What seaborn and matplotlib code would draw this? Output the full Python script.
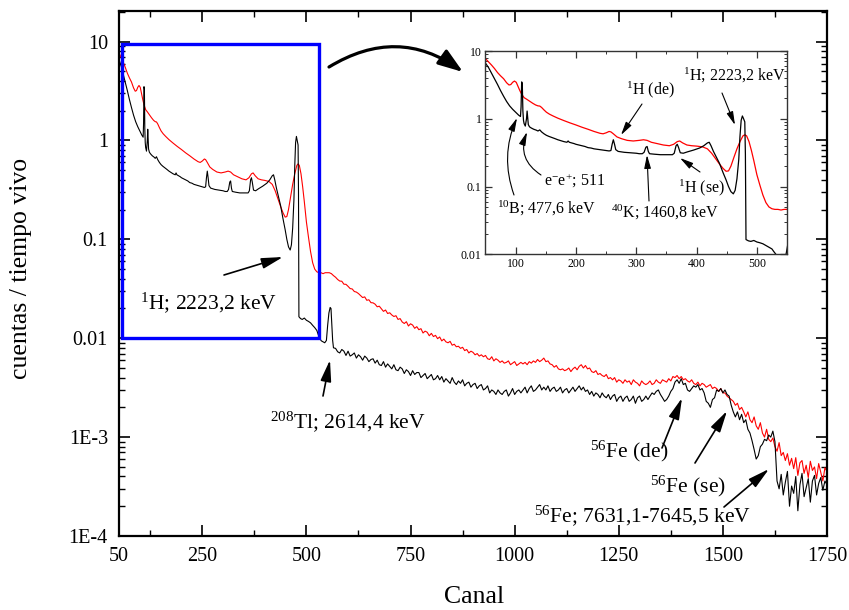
import matplotlib
matplotlib.use("Agg")
import matplotlib.pyplot as plt
import seaborn as sns
import pandas as pd
from matplotlib.patches import Rectangle, FancyArrowPatch
from matplotlib.ticker import FixedLocator, LogLocator, NullFormatter

# ---------------- spectra (counts / live time per channel) ----------------
# low-energy region, sampled around every feature
canal_bajo_negro = [50, 55, 60, 65, 70, 75, 80, 85, 90, 95,
                    100, 105, 108, 109, 110, 111, 112, 113, 114, 116,
                    118, 119, 120, 121, 123, 126, 130, 134, 137, 140,
                    143, 147, 151, 155, 160, 165, 170, 175, 180, 185,
                    187, 189, 193, 197, 200, 205, 210, 215, 220, 225,
                    230, 235, 240, 245, 250, 255, 258, 260, 262, 264,
                    266, 270, 275, 280, 290, 300, 305, 310, 313, 316,
                    318, 320, 322, 330, 340, 350, 360, 363, 366, 368,
                    370, 373, 378, 385, 395, 405, 412, 418, 421, 424,
                    428, 432, 438, 444, 449, 453, 457, 461, 464, 467,
                    470, 472, 474, 476, 478, 480, 481, 482, 486, 490,
                    495, 500, 505, 510, 515, 520, 525, 528, 532, 536,
                    540, 544, 548, 551, 554, 557, 559, 561, 563, 565]
negro_bajo = [6.6, 5.7, 4.7, 3.9, 3.2, 2.6, 2.15, 1.8, 1.55, 1.38,
              1.25, 1.13, 1.08, 1.5, 3.5, 3.3, 1.3, 0.95, 0.85, 0.78,
              1.0, 1.3, 1.05, 0.82, 0.76, 0.73, 0.70, 0.68, 0.66, 0.685,
              0.64, 0.60, 0.57, 0.55, 0.53, 0.51, 0.49, 0.475, 0.46, 0.45,
              0.47, 0.45, 0.44, 0.43, 0.42, 0.41, 0.40, 0.39, 0.375, 0.37,
              0.36, 0.355, 0.35, 0.345, 0.34, 0.335, 0.34, 0.42, 0.49, 0.42,
              0.35, 0.33, 0.325, 0.32, 0.315, 0.31, 0.305, 0.305, 0.32, 0.38,
              0.39, 0.33, 0.305, 0.30, 0.295, 0.295, 0.295, 0.31, 0.40, 0.42,
              0.38, 0.315, 0.31, 0.325, 0.345, 0.37, 0.40, 0.44, 0.45, 0.40,
              0.33, 0.28, 0.22, 0.16, 0.125, 0.10, 0.084, 0.078, 0.088, 0.13,
              0.25, 0.55, 0.95, 1.1, 1.0, 0.9, 0.3, 0.0165, 0.0158, 0.0155,
              0.016, 0.0152, 0.0148, 0.0143, 0.0135, 0.0128, 0.0120, 0.0110, 0.0099, 0.0094,
              0.0092, 0.0090, 0.0095, 0.0135, 0.018, 0.0205, 0.0200, 0.014, 0.0095, 0.0080]

canal_bajo_rojo = [50, 55, 60, 65, 70, 75, 80, 85,
                   89, 92, 95, 98, 101, 104, 107, 110,
                   114, 118, 123, 128, 133, 137, 140, 143,
                   147, 151, 156, 162, 170, 180, 190, 200,
                   210, 220, 230, 240, 245, 250, 255, 258,
                   262, 268, 275, 285, 295, 305, 312, 318,
                   325, 335, 345, 355, 362, 368, 372, 377,
                   384, 392, 400, 410, 418, 425, 432, 438,
                   444, 449, 453, 457, 462, 467, 472, 477,
                   480, 483, 487, 491, 495, 500, 505, 510,
                   515, 520, 525, 530, 535, 540, 545, 550,
                   555, 560, 565]
rojo_bajo = [7.7, 6.9, 6.2, 5.5, 4.8, 4.3, 3.9, 3.4,
             3.15, 3.2, 3.45, 3.6, 3.45, 3.0, 2.6, 2.3,
             2.05, 1.95, 1.82, 1.7, 1.6, 1.55, 1.54, 1.47,
             1.35, 1.25, 1.17, 1.10, 1.02, 0.94, 0.87, 0.81,
             0.75, 0.70, 0.65, 0.61, 0.60, 0.62, 0.65, 0.64,
             0.60, 0.54, 0.51, 0.48, 0.47, 0.48, 0.49, 0.48,
             0.45, 0.43, 0.41, 0.40, 0.42, 0.46, 0.47, 0.44,
             0.41, 0.40, 0.395, 0.385, 0.36, 0.31, 0.255, 0.215,
             0.185, 0.168, 0.17, 0.20, 0.27, 0.36, 0.46, 0.56,
             0.58, 0.56, 0.46, 0.34, 0.24, 0.15, 0.105, 0.075,
             0.058, 0.050, 0.047, 0.046, 0.046, 0.045, 0.046, 0.046,
             0.046, 0.045, 0.043]

# high-energy region: every 5th channel from 570 to 1750
canal_alto = list(range(570, 1751, 5))
negro_alto = [
    0.0079, 0.0073, 0.0071, 0.0077, 0.0074, 0.0067, 0.0074, 0.0066, 0.0068, 0.0071,
    0.0063, 0.0068, 0.0065, 0.0060, 0.0066, 0.0063, 0.0058, 0.0061, 0.0062, 0.0056,
    0.0060, 0.0054, 0.0053, 0.0058, 0.0051, 0.0055, 0.0052, 0.0049, 0.0054, 0.0048,
    0.0047, 0.0051, 0.0049, 0.0044, 0.0048, 0.0046, 0.0042, 0.0047, 0.0043, 0.0045,
    0.0045, 0.0040, 0.0042, 0.0044, 0.0039, 0.0041, 0.0043, 0.0038, 0.0039, 0.0042,
    0.0038, 0.0041, 0.0036, 0.0039, 0.0037, 0.0035, 0.0040, 0.0036, 0.0034, 0.0037,
    0.0035, 0.0038, 0.0033, 0.0035, 0.0036, 0.0032, 0.0034, 0.0035, 0.0031, 0.0033,
    0.0034, 0.0030, 0.0031, 0.0033, 0.0028, 0.0030, 0.0029, 0.0027, 0.0030, 0.0028,
    0.0027, 0.0029, 0.0030, 0.0026, 0.0028, 0.0031, 0.0027, 0.0029, 0.0030, 0.0028,
    0.0030, 0.0032, 0.0028, 0.0031, 0.0033, 0.0029, 0.0030, 0.0032, 0.0034, 0.0030,
    0.0032, 0.0030, 0.0033, 0.0029, 0.0031, 0.0032, 0.0029, 0.0030, 0.0032, 0.0028,
    0.0030, 0.0031, 0.0028, 0.0030, 0.0032, 0.0029, 0.0031, 0.0033, 0.0030, 0.0032,
    0.0029, 0.0030, 0.0027, 0.0029, 0.0026, 0.0028, 0.0027, 0.0025, 0.0028, 0.0026,
    0.0025, 0.0027, 0.0024, 0.0026, 0.0027, 0.0023, 0.0025, 0.0026, 0.0023, 0.0025,
    0.0026, 0.0023, 0.0024, 0.0026, 0.0022, 0.0025, 0.0026, 0.0023, 0.0024, 0.0026,
    0.0024, 0.0026, 0.0028, 0.0027, 0.0029, 0.0030, 0.0027, 0.0025, 0.0023, 0.0024,
    0.0026, 0.0029, 0.0031, 0.0036, 0.0038, 0.0035, 0.0039, 0.0034, 0.0035, 0.0030,
    0.0029, 0.0031, 0.0033, 0.0032, 0.0034, 0.0030, 0.0031, 0.0028, 0.0023, 0.0022,
    0.0020, 0.0024, 0.0025, 0.0030, 0.0029, 0.0031, 0.0028, 0.0030, 0.0027, 0.0026,
    0.0021, 0.0018, 0.0016, 0.0018, 0.0015, 0.0017, 0.0014, 0.0015, 0.0012, 0.0011,
    0.00092, 0.00075, 0.00060, 0.00065, 0.00080, 0.00085, 0.00095, 0.00092, 0.00105, 0.00100,
    0.00115, 0.00090, 0.00036, 0.00030, 0.00042, 0.00026, 0.00035, 0.00045, 0.00020, 0.00032,
    0.00027, 0.00040, 0.00018, 0.00033, 0.00043, 0.00025, 0.00031, 0.00038, 0.00022, 0.00036,
    0.00041, 0.00026, 0.00034, 0.00039, 0.00029, 0.00036, 0.00033]
rojo_alto = [
    0.0414, 0.0393, 0.0379, 0.0377, 0.0352, 0.0351, 0.0335, 0.0318, 0.0315, 0.0297,
    0.0293, 0.0283, 0.0270, 0.0258, 0.0262, 0.0242, 0.0245, 0.0229, 0.0228, 0.0221,
    0.0208, 0.0211, 0.0199, 0.0187, 0.0193, 0.0178, 0.0181, 0.0172, 0.0166, 0.0169,
    0.0155, 0.0158, 0.0146, 0.0141, 0.0147, 0.0133, 0.0140, 0.0136, 0.0126, 0.0131,
    0.0122, 0.0125, 0.0113, 0.0118, 0.0115, 0.0106, 0.0112, 0.0104, 0.0107, 0.0099,
    0.0103, 0.0094, 0.0098, 0.0092, 0.0090, 0.0093, 0.0085, 0.0087, 0.0082, 0.0083,
    0.0079, 0.0081, 0.0075, 0.0077, 0.0071, 0.0074, 0.0072, 0.0068, 0.0070, 0.0066,
    0.0068, 0.0065, 0.0067, 0.0062, 0.0061, 0.0065, 0.0059, 0.0062, 0.0060, 0.0057,
    0.0059, 0.0056, 0.0057, 0.0059, 0.0054, 0.0056, 0.0058, 0.0053, 0.0055, 0.0057,
    0.0055, 0.0057, 0.0054, 0.0058, 0.0056, 0.0059, 0.0057, 0.0061, 0.0058, 0.0060,
    0.0063, 0.0058, 0.0059, 0.0055, 0.0054, 0.0051, 0.0053, 0.0049, 0.0048, 0.0049,
    0.0047, 0.0048, 0.0050, 0.0046, 0.0049, 0.0051, 0.0048, 0.0052, 0.0054, 0.0050,
    0.0053, 0.0049, 0.0050, 0.0046, 0.0045, 0.0047, 0.0043, 0.0044, 0.0042, 0.0041,
    0.0043, 0.0039, 0.0040, 0.0038, 0.0040, 0.0036, 0.0038, 0.0037, 0.0035, 0.0038,
    0.0036, 0.0037, 0.0034, 0.0038, 0.0036, 0.0035, 0.0033, 0.0037, 0.0035, 0.0034,
    0.0035, 0.0037, 0.0034, 0.0035, 0.0038, 0.0036, 0.0035, 0.0038, 0.0037, 0.0036,
    0.0039, 0.0037, 0.0041, 0.0040, 0.0042, 0.0039, 0.0041, 0.0038, 0.0039, 0.0037,
    0.0036, 0.0038, 0.0035, 0.0034, 0.0036, 0.0033, 0.0035, 0.0034, 0.0032, 0.0033,
    0.0034, 0.0031, 0.0032, 0.0031, 0.0029, 0.0031, 0.0028, 0.0028, 0.0026, 0.0025,
    0.0024, 0.0023, 0.0021, 0.0022, 0.0019, 0.0020, 0.0018, 0.0016, 0.0018, 0.0015,
    0.0014, 0.0016, 0.0013, 0.0012, 0.0014, 0.0011, 0.0010, 0.0012, 0.00095, 0.00090,
    0.00098, 0.00080, 0.00072, 0.00088, 0.00065, 0.00070, 0.00058, 0.00068, 0.00052, 0.00061,
    0.00048, 0.00062, 0.00041, 0.00055, 0.00058, 0.00043, 0.00052, 0.00039, 0.00057, 0.00046,
    0.00050, 0.00038, 0.00054, 0.00044, 0.00036, 0.00049, 0.00045]

# axis ticks
ticks_x = [50, 250, 500, 750, 1000, 1250, 1500, 1750]
ticks_x_menores = [125, 375, 625, 875, 1125, 1375, 1625]
ticks_y = [1e-4, 1e-3, 1e-2, 1e-1, 1, 10]
etiquetas_y = ["1E-4", "1E-3", "0.01", "0.1", "1", "10"]
ticks_x_inset = [100, 200, 300, 400, 500]
ticks_x_inset_menores = [50, 150, 250, 350, 450, 550]
ticks_y_inset = [0.01, 0.1, 1, 10]
etiquetas_y_inset = ["0.01", "0.1", "1", "10"]

df_negro = pd.DataFrame({"Canal": canal_bajo_negro + canal_alto,
                         "cuentas": negro_bajo + negro_alto})
df_rojo = pd.DataFrame({"Canal": canal_bajo_rojo + canal_alto,
                        "cuentas": rojo_bajo + rojo_alto})

# ---------------- style ----------------
sns.set_theme(style="ticks")
plt.rcParams.update({
    "font.family": ["Liberation Serif", "DejaVu Serif"],
    "mathtext.fontset": "custom",
    "mathtext.rm": "Liberation Serif",
    "mathtext.it": "Liberation Serif:italic",
    "mathtext.bf": "Liberation Serif:bold",
    "text.color": "black",
    "axes.edgecolor": "black",
    "xtick.color": "black",
    "ytick.color": "black",
})

W, H = 849, 610
fig = plt.figure(figsize=(W / 100, H / 100), dpi=100)


def fx(px):
    return px / W


def fy(py):
    return 1 - py / H


def dibujar(ax, lw):
    sns.lineplot(data=df_rojo, x="Canal", y="cuentas", color="#ff0000",
                 lw=lw, ax=ax, estimator=None, sort=False)
    sns.lineplot(data=df_negro, x="Canal", y="cuentas", color="black",
                 lw=lw, ax=ax, estimator=None, sort=False)
    ax.set_yscale("log")
    ax.set_xlabel("")
    ax.set_ylabel("")


# ---------------- main panel ----------------
ax = fig.add_axes([fx(119), fy(536), (827 - 119) / W, (536 - 11) / H])
dibujar(ax, 0.8)
ax.set_xlim(50, 1750)
ax.set_ylim(1e-4, 20.4)
ax.set_xticks(ticks_x)
ax.set_xticklabels([str(t) for t in ticks_x])
ax.xaxis.set_minor_locator(FixedLocator(ticks_x_menores))
ax.set_yticks(ticks_y)
ax.set_yticklabels(etiquetas_y)
ax.yaxis.set_minor_locator(LogLocator(base=10, subs=range(2, 10)))
ax.yaxis.set_minor_formatter(NullFormatter())
for s in ax.spines.values():
    s.set_linewidth(1.6)
ax.tick_params(which="both", direction="in", top=True, right=True)
ax.tick_params(which="major", length=8, width=1.2, labelsize=14.5, pad=8)
ax.tick_params(which="minor", length=4, width=1.0)

ax.add_patch(Rectangle((57, 0.01), 530 - 57, 9.55 - 0.01, fill=False,
                       ec="#0000ff", lw=2.4, zorder=5, clip_on=False))

fig.text(fx(474), fy(597), "Canal", ha="center", va="center", fontsize=18.5)
fig.text(fx(21), fy(268), "cuentas / tiempo vivo", ha="center", va="center",
         rotation=90, fontsize=18.5)

# ---------------- inset ----------------
axi = fig.add_axes([fx(485.5), fy(254.3), (787 - 485.5) / W, (254.3 - 51) / H])
dibujar(axi, 0.9)
axi.set_xlim(50, 550)
axi.set_ylim(0.01, 10)
axi.set_xticks(ticks_x_inset)
axi.set_xticklabels([str(t) for t in ticks_x_inset])
axi.xaxis.set_minor_locator(FixedLocator(ticks_x_inset_menores))
axi.set_yticks(ticks_y_inset)
axi.set_yticklabels(etiquetas_y_inset)
axi.yaxis.set_minor_locator(LogLocator(base=10, subs=range(2, 10)))
axi.yaxis.set_minor_formatter(NullFormatter())
for s in axi.spines.values():
    s.set_linewidth(1.0)
    s.set_color("#333333")
axi.tick_params(which="both", direction="in", top=True, right=True, color="#333333")
axi.tick_params(which="major", length=5, width=0.9, labelsize=8.5, pad=3)
axi.tick_params(which="minor", length=2.5, width=0.7)


# ---------------- annotations ----------------
def flecha(xa, ya, xb, yb, lw, escala, rad=0.0, ancho=0.25):
    estilo = f"-|>,head_length=1.0,head_width={ancho}"
    fig.add_artist(FancyArrowPatch((fx(xa), fy(ya)), (fx(xb), fy(yb)),
                                   transform=fig.transFigure, arrowstyle=estilo,
                                   mutation_scale=escala, lw=lw, color="black",
                                   shrinkA=0, shrinkB=0, zorder=10,
                                   connectionstyle=f"arc3,rad={rad}"))


def texto(x, y, s, size):
    fig.text(fx(x), fy(y), s, ha="left", va="baseline", fontsize=size, zorder=10)


# curved pointer from the framed region to the inset
flecha(329, 67, 463, 72, 2.3, 15, rad=-0.33, ancho=0.35)

texto(140, 309, r"$^{1}$H; 2223,2 keV", 15.5)
flecha(224, 275, 283, 257, 1.2, 13)
texto(270, 428, r"$^{208}$Tl; 2614,4 keV", 15.5)
flecha(323, 396, 330, 360, 1.2, 13)
texto(590, 457, r"$^{56}$Fe (de)", 15.5)
flecha(662, 448, 682, 398, 1.2, 13)
texto(650, 492, r"$^{56}$Fe (se)", 15.5)
flecha(695, 463, 727, 411, 1.2, 13)
texto(534, 522, r"$^{56}$Fe; 7631,1-7645,5 keV", 15.5)
flecha(724, 507, 769, 469, 1.2, 13)

texto(497, 214, r"$^{10}$B; 477,6 keV", 11.5)
flecha(514, 195, 517, 118, 0.8, 8, rad=-0.2)
texto(544, 186, r"e$^{-}$e$^{+}$; 511", 11.5)
flecha(541, 175, 527, 132, 0.8, 8, rad=-0.4)
texto(611, 218, r"$^{40}$K; 1460,8 keV", 11.5)
flecha(649, 201, 647, 155, 0.8, 8)
texto(626, 94, r"$^{1}$H (de)", 11.5)
flecha(642, 104, 621, 135, 0.8, 8)
texto(678, 192, r"$^{1}$H (se)", 11.5)
flecha(700, 172, 680, 158, 0.8, 8)
texto(683, 81, r"$^{1}$H; 2223,2 keV", 11.5)
flecha(722, 93, 735, 125, 0.8, 8)

fig.savefig("out.png", dpi=100)
